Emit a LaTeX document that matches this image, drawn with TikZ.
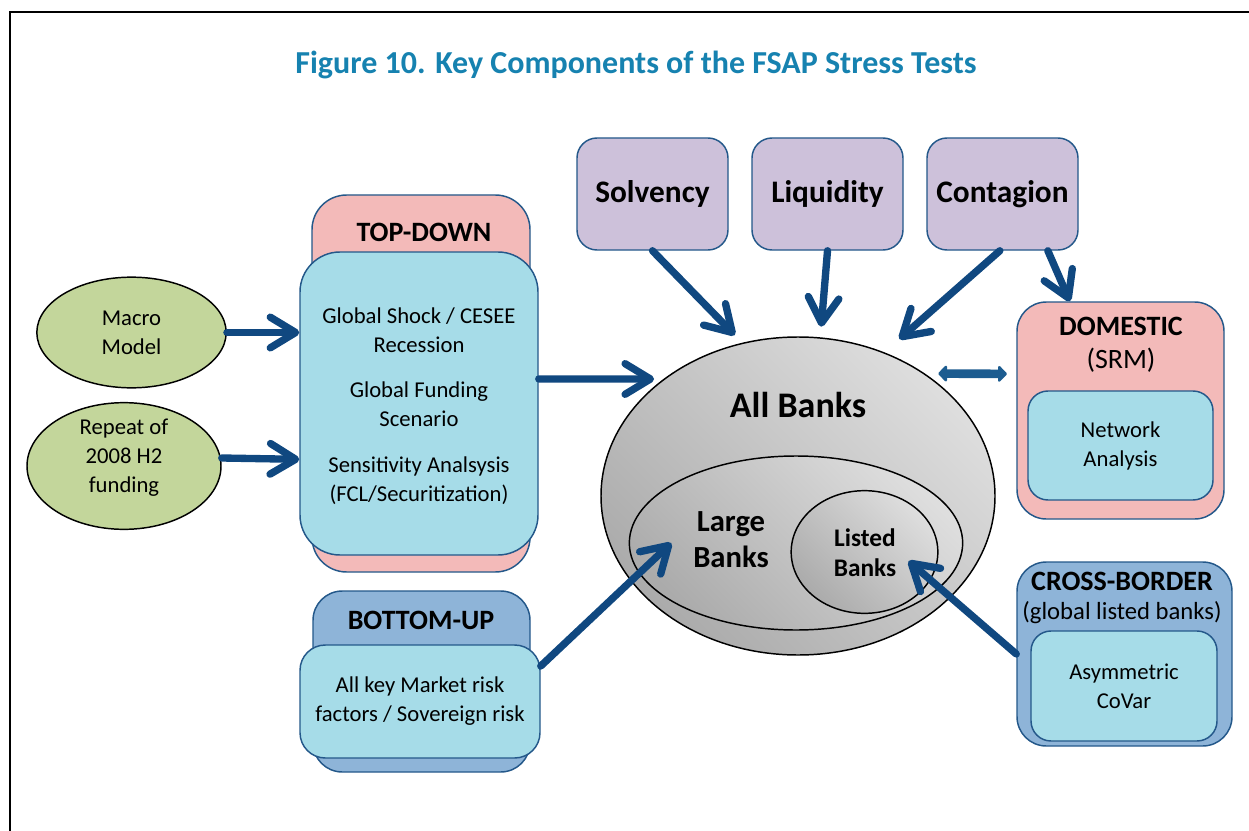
\documentclass[tikz,border=0pt]{standalone}
\usepackage{fontspec}
\setmainfont{Carlito}
\usetikzlibrary{arrows.meta,shapes.geometric}

\definecolor{lavfill}{RGB}{205,193,218}
\definecolor{pinkfill}{RGB}{243,186,185}
\definecolor{cyanfill}{RGB}{166,220,232}
\definecolor{steelfill}{RGB}{142,180,216}
\definecolor{greenfill}{RGB}{195,214,155}
\definecolor{edgeblue}{RGB}{36,88,138}
\definecolor{arrowblue}{RGB}{16,72,128}
\definecolor{linkblue}{RGB}{28,92,144}
\definecolor{titleblue}{RGB}{22,130,176}

\newcommand\setfs[2]{\fontsize{#1}{#2}\selectfont}

\begin{document}
\begin{tikzpicture}[x=0.75pt,y=-0.75pt,
  rbox/.style={draw=edgeblue, line width=1.1pt, inner sep=0pt},
  body/.style={font=\setfs{17}{21.75}, align=center, inner sep=0pt},
  head/.style={font=\setfs{21}{26}\bfseries, align=center, inner sep=0pt},
  oval/.style={ellipse, draw=black, line width=1.1pt, inner sep=0pt},
  banks/.style={oval, top color=gray!26, bottom color=gray!66, shading angle=-45},
  arr/.style={draw=arrowblue, line width=5.5pt, line cap=round,
    -{Straight Barb[round, length=19pt, width=23pt]}},
  biarr/.style={draw=linkblue, line width=6.5pt,
    {Triangle[round, length=7pt, width=14pt]}-{Triangle[round, length=7pt, width=14pt]}}
]
\useasboundingbox (0,0) rectangle (1249,831);
\fill[white] (0,0) rectangle (1249,831);

% page frame
\draw[line width=1.8pt] (10,831) -- (10,12) -- (1249,12);

% title
\node[font=\setfs{24}{28}\bfseries, text=titleblue, inner sep=0pt] (title) at (636,65)
  {Figure 10. Key Components of the FSAP Stress Tests};

% risk types
\node[rbox, fill=lavfill, rounded corners=15pt, minimum width=113.25pt, minimum height=84pt,
  font=\setfs{23.5}{28}\bfseries] (sol) at (652.5,194) {Solvency};
\node[rbox, fill=lavfill, rounded corners=15pt, minimum width=113.25pt, minimum height=84pt,
  font=\setfs{23.5}{28}\bfseries] (liq) at (827.5,194) {Liquidity};
\node[rbox, fill=lavfill, rounded corners=15pt, minimum width=113.25pt, minimum height=84pt,
  font=\setfs{23.5}{28}\bfseries] (con) at (1002.5,194) {Contagion};

% top-down block
\node[rbox, fill=pinkfill, rounded corners=26pt, minimum width=163.5pt, minimum height=282.75pt] (tdb) at (421,383.5) {};
\node[head] (tdT) at (424,232) {TOP-DOWN};
\node[rbox, fill=cyanfill, rounded corners=30pt, minimum width=178.5pt, minimum height=227.25pt] (tdf) at (419,403.5) {};
\node[body] (td1) at (419,330) {Global Shock / CESEE\\Recession};
\node[body] (td2) at (419,404) {Global Funding\\Scenario};
\node[body] (td3) at (419,480.5) {Sensitivity Analsysis\\(FCL/Securitization)};

% scenario inputs
\node[oval, fill=greenfill, minimum width=142pt, minimum height=83pt, body] (macro) at (131.5,332.5) {Macro\\Model};
\node[oval, fill=greenfill, minimum width=145.5pt, minimum height=95pt] (rep) at (124,466) {};
\node[body] (repT) at (124,458) {Repeat of\\2008 H2\\funding};

% bottom-up block
\node[rbox, fill=steelfill, rounded corners=22pt, minimum width=162.75pt, minimum height=135.75pt] (bub) at (421.5,681.5) {};
\node[head] (buT) at (421,620) {BOTTOM-UP};
\node[rbox, fill=cyanfill, rounded corners=19pt, minimum width=180pt, minimum height=84.75pt, body] (buf) at (420,701.5)
  {All key Market risk\\factors / Sovereign risk};

% bank populations
\node[banks, minimum width=295.5pt, minimum height=238.5pt] (all) at (798,496) {};
\node[font=\setfs{27}{32}\bfseries, inner sep=0pt] (allT) at (798,405) {All Banks};
\node[banks, minimum width=250pt, minimum height=130.5pt] (large) at (796,543) {};
\node[font=\setfs{23}{27}\bfseries, align=center, inner sep=0pt] (largeT) at (731,540) {Large\\Banks};
\node[banks, minimum width=110pt, minimum height=92pt] (lst) at (864.5,552) {};
\node[font=\setfs{19}{22.5}\bfseries, align=center, inner sep=0pt] (lstT) at (865,553) {Listed\\Banks};

% domestic block
\node[rbox, fill=pinkfill, rounded corners=22pt, minimum width=155.25pt, minimum height=162.75pt] (dom) at (1120.5,410.5) {};
\node[head] (domT) at (1121,326) {DOMESTIC};
\node[font=\setfs{21}{26}, inner sep=0pt] (domS) at (1121,360) {(SRM)};
\node[rbox, fill=cyanfill, rounded corners=15pt, minimum width=138.75pt, minimum height=81.75pt, body] (net) at (1120.5,445.5)
  {Network\\Analysis};

% cross-border block
\node[rbox, fill=steelfill, rounded corners=22pt, minimum width=161.25pt, minimum height=138pt] (cb) at (1124.5,654) {};
\node[head] (cbT) at (1122,581) {CROSS-BORDER};
\node[font=\setfs{18.5}{22}, inner sep=0pt] (cbS) at (1122,613) {(global listed banks)};
\node[rbox, fill=cyanfill, rounded corners=15pt, minimum width=139.5pt, minimum height=82.5pt, body] (covar) at (1124,686)
  {Asymmetric\\CoVar};

% connectors
\draw[arr] (macro.east) -- (macro.east -| tdf.west);
\draw[arr] ([yshift=6pt]rep.east) -- ([yshift=5pt]rep.east -| tdf.west);
\draw[arr, shorten >=7pt] ([yshift=18.4pt]tdf.east) -- (all.139);
\draw[arr, shorten >=8pt] (sol.south) -- (all.110);
\draw[arr, shorten >=8pt] (liq.south) -- (all.82);
\draw[arr, shorten >=15pt] ([xshift=-2pt]con.south) -- (all.59);
\draw[arr] ([xshift=34pt]con.south) -- ([xshift=-38pt]dom.north);
\draw[biarr, shorten <=10pt, shorten >=7pt] (all.44) -- ([yshift=27.4pt]dom.west);
\draw[arr] ([yshift=26.6pt]buf.east) -- ([xshift=32pt]large.west);
\draw[arr] (cb.west) -- ([xshift=-22.5pt,yshift=-6.75pt]lst.east);
\end{tikzpicture}
\end{document}
